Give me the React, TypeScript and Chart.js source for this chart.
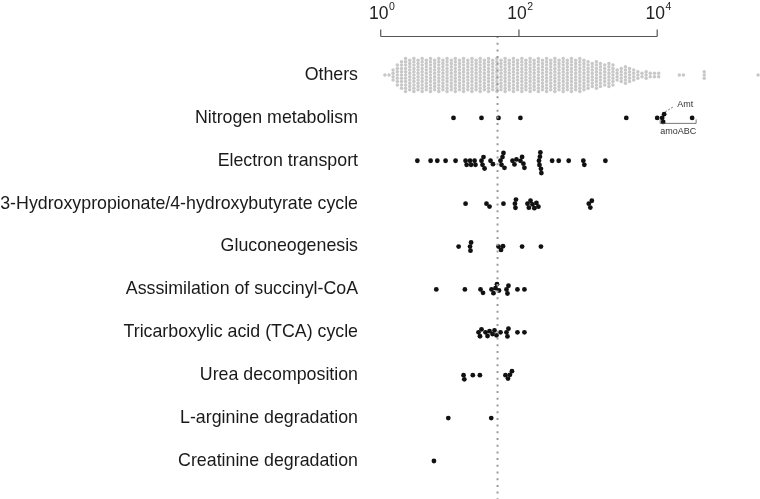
import React, { useEffect, useRef } from "react";
import { Chart, registerables } from "chart.js";

Chart.register(...registerables);

// ---------- data ----------
const rowLabels = [
  "Others",
  "Nitrogen metabolism",
  "Electron transport",
  "3-Hydroxypropionate/4-hydroxybutyrate cycle",
  "Gluconeogenesis",
  "Asssimilation of succinyl-CoA",
  "Tricarboxylic acid (TCA) cycle",
  "Urea decomposition",
  "L-arginine degradation",
  "Creatinine degradation",
];

// "Others": binned values (bin centre) and number of genes per bin
const othersBinValues = [
  1.15, 1.32, 1.51, 1.74, 2.0, 2.29, 2.63, 3.02, 3.47, 3.98, 4.57, 5.25, 6.03, 6.92, 7.94, 9.12,
  10.5, 12.0, 13.8, 15.8, 18.2, 20.9, 24.0, 27.5, 31.6, 36.3, 41.7, 47.9, 55.0, 63.1, 72.4, 83.2,
  95.5, 110, 126, 145, 166, 191, 219, 251, 288, 331, 380, 437, 501, 575, 661, 759, 871, 1000,
  1150, 1320, 1510, 1740, 2000, 2290, 2630, 3020, 3470, 3980, 4570, 5250, 6030, 6920, 7940, 9120,
  10500, 20900, 24000, 47900, 288000,
];
const othersBinCounts = [
  1, 1, 4, 7, 9, 11, 10, 11, 10, 11, 10, 11, 10, 11, 10, 11,
  10, 11, 10, 11, 10, 11, 10, 11, 10, 11, 10, 11, 10, 11, 10, 11,
  10, 11, 10, 11, 10, 11, 10, 11, 10, 11, 10, 11, 10, 11, 10, 11, 10, 9,
  8, 9, 8, 7, 8, 7, 4, 5, 6, 5, 4, 3, 2, 3, 2, 2,
  2, 1, 1, 3, 1,
];

const nitrogenMetabolism = [11.3, 28.7, 50.6, 105, 3570, 10000, 11800, 12200, 12600, 32000];
const electronTransport = [
  3.39, 5.27, 6.59, 8.68, 12.1, 16.9, 17.5, 19.6, 20.3, 22.8, 23.5, 28.7, 29.7, 30.7, 31.8, 38.8,
  42.1, 54.1, 55.9, 57.8, 59.7, 61.7, 80.6, 86.1, 92.0, 105, 111, 116, 120, 195, 198, 201, 204,
  208, 211, 302, 376, 524, 854, 883, 1780,
];
const hydroxypropionateCycle = [16.9, 33.9, 37.5, 59.7, 87.5, 89.0, 90.5, 133, 139, 147, 157, 167, 179, 191, 1025, 1078, 1133];
const gluconeogenesis = [13.4, 19.6, 19.9, 20.3, 50.6, 55.0, 58.8, 111, 208];
const succinylCoA = [6.37, 16.5, 27.8, 30.2, 40.1, 42.8, 45.8, 48.1, 51.4, 66.0, 68.2, 70.5, 95.1, 120];
const tcaCycle = [26.0, 27.3, 28.7, 32.8, 35.1, 37.5, 41.4, 44.3, 47.3, 54.1, 66.0, 68.2, 70.5, 95.1, 120];
const ureaDecomposition = [15.8, 16.2, 21.5, 27.2, 63.8, 69.4, 74.1, 79.2];
const arginineDegradation = [9.5, 39.7];
const creatinineDegradation = [5.89];

const categoryRows = [
  nitrogenMetabolism,
  electronTransport,
  hydroxypropionateCycle,
  gluconeogenesis,
  succinylCoA,
  tcaCycle,
  ureaDecomposition,
  arginineDegradation,
  creatinineDegradation,
];

const thresholdValue = 49;
const xTickValues = [1, 100, 10000];

// ---------- layout ----------
const FONT = "'Liberation Sans', Arial, Helvetica, sans-serif";
const X_MIN = 0.717;
const X_MAX = 307000;
const Y_MIN = -0.909;
const Y_MAX = 9.886;
const PLOT_W = 390;
const PLOT_H = 463;
const pxPerDecade = PLOT_W / (Math.log10(X_MAX) - Math.log10(X_MIN));
const pxPerUnit = PLOT_H / (Y_MAX - Y_MIN);

function swarmOffsets(values: number[], d: number): number[] {
  const xs = values.map((v) => Math.log10(v) * pxPerDecade);
  const order = xs.map((_, i) => i).sort((a, b) => xs[a] - xs[b]);
  const out: number[] = new Array(values.length).fill(0);
  const placed: { x: number; y: number }[] = [];
  for (const i of order) {
    const x = xs[i];
    const iv: [number, number][] = [];
    for (const p of placed) {
      const dx = Math.abs(p.x - x);
      if (dx < d) {
        const h = Math.sqrt(d * d - dx * dx);
        iv.push([p.y - h, p.y + h]);
      }
    }
    const cands = [0];
    for (const [a, b] of iv) cands.push(a, b);
    let best = Infinity;
    for (const c of cands) {
      const ok = iv.every(([a, b]) => c <= a + 1e-6 || c >= b - 1e-6);
      if (!ok) continue;
      if (Math.abs(c) < Math.abs(best) - 1e-9 || (Math.abs(Math.abs(c) - Math.abs(best)) < 1e-9 && c > best)) best = c;
    }
    out[i] = best;
    placed.push({ x, y: best });
  }
  return out;
}

function buildBlackPoints() {
  const pts: { x: number; y: number }[] = [];
  categoryRows.forEach((vals, r) => {
    const offs = swarmOffsets(vals, 4.2);
    vals.forEach((v, i) => pts.push({ x: v, y: r + 1 + offs[i] / pxPerUnit }));
  });
  return pts;
}

function buildOthersPoints() {
  const pts: { x: number; y: number }[] = [];
  const step = 3.3;
  othersBinValues.forEach((v, k) => {
    const n = othersBinCounts[k];
    for (let j = 0; j < n; j++) {
      const off = (j - (n - 1) / 2) * step;
      pts.push({ x: v, y: off / pxPerUnit });
    }
  });
  return pts;
}

const decorPlugin = {
  id: "decor",
  afterDraw(chart: any) {
    const { ctx, chartArea } = chart;
    const xs = chart.scales.x;
    const ys = chart.scales.y;
    const yAxis = chartArea.top + 0.5;
    ctx.save();
    // top axis bracket
    ctx.strokeStyle = "#555";
    ctx.lineWidth = 1.2;
    const x0 = xs.getPixelForValue(xTickValues[0]);
    const x1 = xs.getPixelForValue(xTickValues[xTickValues.length - 1]);
    ctx.beginPath();
    ctx.moveTo(x0, yAxis);
    ctx.lineTo(x1, yAxis);
    for (const v of xTickValues) {
      const p = xs.getPixelForValue(v);
      ctx.moveTo(p, yAxis);
      ctx.lineTo(p, yAxis - 7);
    }
    ctx.stroke();
    // tick labels 10^n
    ctx.fillStyle = "#222";
    ctx.textBaseline = "alphabetic";
    ctx.textAlign = "left";
    for (const v of xTickValues) {
      const p = xs.getPixelForValue(v);
      const exp = String(Math.round(Math.log10(v)));
      ctx.font = `17.5px ${FONT}`;
      const wb = ctx.measureText("10").width;
      ctx.font = `10.5px ${FONT}`;
      const we = ctx.measureText(exp).width;
      const left = p - (wb + we) / 2 + 1;
      ctx.font = `17.5px ${FONT}`;
      ctx.fillText("10", left, 18.5);
      ctx.font = `10.5px ${FONT}`;
      ctx.fillText(exp, left + wb + 0.5, 9.5);
    }
    // annotations on nitrogen metabolism row
    const rowY = ys.getPixelForValue(1);
    const pStack = xs.getPixelForValue(nitrogenMetabolism[7]);
    const pLast = xs.getPixelForValue(nitrogenMetabolism[nitrogenMetabolism.length - 1]);
    ctx.strokeStyle = "#555";
    ctx.lineWidth = 0.8;
    ctx.setLineDash([2, 1.5]);
    ctx.beginPath();
    ctx.moveTo(pStack + 2, rowY - 6);
    ctx.lineTo(pStack + 10, rowY - 11);
    ctx.stroke();
    ctx.setLineDash([]);
    ctx.fillStyle = "#333";
    ctx.font = `9px ${FONT}`;
    ctx.textBaseline = "middle";
    ctx.textAlign = "left";
    ctx.fillText("Amt", pStack + 14, rowY - 13);
    const xL = pStack - 3;
    const xR = pLast + 4;
    const yb = rowY + 5.5;
    ctx.beginPath();
    ctx.moveTo(xL, yb - 4);
    ctx.lineTo(xL, yb);
    ctx.lineTo(xR, yb);
    ctx.lineTo(xR, yb - 4);
    ctx.stroke();
    ctx.textAlign = "center";
    ctx.fillText("amoABC", (xL + xR) / 2, rowY + 13.5);
    ctx.restore();
  },
};

export default function App() {
  const ref = useRef<HTMLCanvasElement>(null);
  useEffect(() => {
    const chart = new Chart(ref.current as HTMLCanvasElement, {
      type: "scatter",
      data: {
        datasets: [
          {
            data: [
              { x: thresholdValue, y: Y_MIN },
              { x: thresholdValue, y: Y_MAX },
            ],
            showLine: true,
            borderColor: "#9a9a9a",
            borderWidth: 2,
            borderDash: [2, 4.7],
            pointRadius: 0,
          } as any,
          {
            data: buildBlackPoints(),
            pointRadius: 2.4,
            pointBorderWidth: 0,
            backgroundColor: "#111",
            borderColor: "#111",
          },
          {
            data: buildOthersPoints(),
            pointRadius: 1.75,
            pointBorderWidth: 0,
            backgroundColor: "#c8c8c8",
            borderColor: "#c8c8c8",
          },
        ],
      },
      options: {
        animation: false,
        responsive: false,
        devicePixelRatio: 1,
        layout: { autoPadding: false, padding: { top: 36, left: 0, right: 0, bottom: 0 } },
        plugins: { legend: { display: false }, tooltip: { enabled: false } },
        scales: {
          x: { type: "logarithmic", min: X_MIN, max: X_MAX, display: false },
          y: {
            type: "linear",
            reverse: true,
            min: Y_MIN,
            max: Y_MAX,
            afterBuildTicks: (s: any) => {
              s.ticks = rowLabels.map((_, i) => ({ value: i }));
            },
            afterFit: (s: any) => {
              s.width = 370;
              s.paddingTop = 0;
              s.paddingBottom = 0;
            },
            ticks: {
              callback: (v: any) => rowLabels[v as number] ?? "",
              font: { family: FONT, size: 17.8 },
              color: "#1a1a1a",
              padding: 12,
            },
            grid: { display: false, drawTicks: false },
            border: { display: false },
          },
        },
      } as any,
      plugins: [decorPlugin],
    });
    return () => chart.destroy();
  }, []);
  return (
    <div style={{ position: "fixed", left: 0, top: 0, width: 760, height: 499, background: "#fff" }}>
      <canvas ref={ref} width={760} height={499} style={{ display: "block", width: 760, height: 499 }} />
    </div>
  );
}
